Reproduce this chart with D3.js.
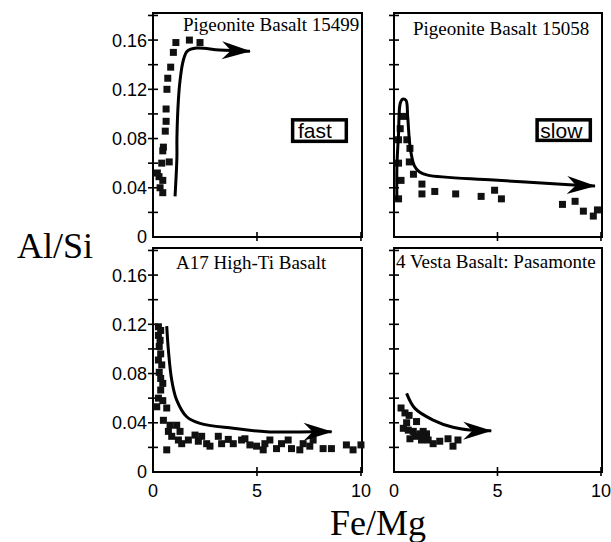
<!DOCTYPE html>
<html lang="en">

<head>
    <meta charset="UTF-8">
    <title>Al/Si vs Fe/Mg</title>
    <script src="https://cdn.jsdelivr.net/npm/d3@7"></script>
    <style>
        body {
            margin: 0;
            padding: 0;
            background: #fff;
        }

        svg text.tick {
            font: 18px "Liberation Sans", Arial, sans-serif;
        }

        svg text.title {
            font: 19px "Liberation Serif", "Times New Roman", serif;
        }
    </style>
</head>

<body>
    <div id="chart"></div>
    <script>
        // tick values / labels
        var xTicks = [0, 5, 10];
        var yMajor = [0, 0.04, 0.08, 0.12, 0.16];
        var yMajorLabels = ["0", "0.04", "0.08", "0.12", "0.16"];
        var yMinor = [0.02, 0.06, 0.10, 0.14, 0.18];

        // Pigeonite Basalt 15499
        var p15499X = [1.1, 1.75, 2.26, 0.98, 0.85, 0.71, 0.67, 0.63, 0.63, 0.59, 0.50, 0.47, 0.42, 0.78, 0.21, 0.29, 0.47, 0.34, 0.47];
        var p15499Y = [0.158, 0.160, 0.158, 0.150, 0.138, 0.129, 0.120, 0.104, 0.094, 0.086, 0.073, 0.070, 0.060, 0.061, 0.052, 0.049, 0.046, 0.040, 0.036];
        var p15499LineX = [1.06, 1.15, 1.15, 1.22, 1.30, 1.45, 1.65, 2.1, 3.2, 4.66];
        var p15499LineY = [0.033, 0.065, 0.080, 0.111, 0.127, 0.143, 0.151, 0.1535, 0.152, 0.151];

        // Pigeonite Basalt 15058
        var p15058X = [0.22, 0.34, 0.22, 0.22, 0.30, 0.46, 0.62, 0.77, 0.74, 0.94, 1.35, 1.35, 1.97, 2.98, 4.21, 4.86, 5.19, 8.14, 8.75, 9.15, 9.63, 9.83];
        var p15058Y = [0.031, 0.046, 0.060, 0.079, 0.088, 0.098, 0.079, 0.072, 0.061, 0.051, 0.043, 0.035, 0.037, 0.035, 0.033, 0.038, 0.031, 0.0265, 0.029, 0.021, 0.017, 0.022];
        var p15058LineX = [0.14, 0.14, 0.22, 0.30, 0.42, 0.58, 0.66, 0.78, 0.98, 1.22, 1.62, 4.82, 8.67, 9.71];
        var p15058LineY = [0.030, 0.057, 0.084, 0.1085, 0.112, 0.111, 0.098, 0.073, 0.058, 0.053, 0.0503, 0.0463, 0.0422, 0.0414];

        // A17 High-Ti Basalt
        var a17X = [0.26, 0.37, 0.26, 0.34, 0.30, 0.37, 0.26, 0.42, 0.30, 0.37, 0.47, 0.37, 0.26, 0.47, 0.18, 0.66, 0.50,
            0.82, 0.66, 0.74, 0.90, 1.14, 1.22, 1.38, 1.30, 1.70, 2.02, 2.18, 2.34, 2.58, 2.74, 3.14, 3.30, 3.62, 3.86,
            4.26, 4.42, 4.66, 4.98, 5.30, 5.38, 5.62, 5.94, 6.18, 6.50, 6.66, 7.06, 7.22, 7.54, 7.70, 8.18, 8.58, 9.30, 9.62, 10.0];
        var a17Y = [0.118, 0.115, 0.111, 0.107, 0.102, 0.096, 0.091, 0.087, 0.081, 0.076, 0.072, 0.0666, 0.060, 0.058, 0.053, 0.052, 0.042,
            0.038, 0.018, 0.033, 0.029, 0.038, 0.026, 0.023, 0.033, 0.026, 0.030, 0.025, 0.029, 0.023, 0.021, 0.029, 0.023, 0.0265, 0.023,
            0.026, 0.027, 0.022, 0.021, 0.018, 0.023, 0.026, 0.019, 0.023, 0.026, 0.019, 0.018, 0.023, 0.021, 0.026, 0.019, 0.019, 0.022, 0.018, 0.022];
        var a17LineX = [0.66, 0.74, 0.90, 1.14, 1.62, 2.26, 3.86, 5.46, 7.7, 8.59];
        var a17LineY = [0.1185, 0.099, 0.0747, 0.0584, 0.0449, 0.0395, 0.0355, 0.0327, 0.0327, 0.0327];

        // 4 Vesta Basalt: Pasamonte
        var vestaX = [0.34, 0.53, 0.73, 1.09, 0.45, 0.69, 0.93, 0.77, 1.01, 1.25, 1.41, 1.57, 1.33, 1.65, 1.89, 2.21, 2.61, 2.85, 3.09, 0.61];
        var vestaY = [0.052, 0.048, 0.046, 0.041, 0.0355, 0.034, 0.033, 0.027, 0.029, 0.031, 0.033, 0.031, 0.026, 0.026, 0.023, 0.025, 0.027, 0.021, 0.026, 0.040];
        var vestaLineX = [0.61, 1.01, 1.89, 2.85, 3.65, 4.70];
        var vestaLineY = [0.0639, 0.0517, 0.0422, 0.0363, 0.0341, 0.0335];

        var width = 611, height = 542;

        var svg = d3.select("#chart").append("svg")
            .attr("width", width)
            .attr("height", height);

        // arrow head with notched back
        svg.append("defs").append("marker")
            .attr("id", "arrow")
            .attr("markerUnits", "userSpaceOnUse")
            .attr("viewBox", "-29 -10 30 20")
            .attr("refX", 0)
            .attr("refY", 0)
            .attr("markerWidth", 30)
            .attr("markerHeight", 20)
            .attr("orient", "auto")
            .append("path")
            .attr("d", "M1,0L-28,-9L-19,0L-28,9Z")
            .attr("fill", "#000");

        var cols = [[153, 362], [394, 602]];
        var rows = [[13, 237], [248, 472]];

        var panels = [
            { title: "Pigeonite Basalt 15499", col: 0, row: 0, px: p15499X, py: p15499Y, lx: p15499LineX, ly: p15499LineY, tdx: 30, tdy: 18, box: { text: "fast", x0: 6.63, x1: 9.38, y0: 0.0763, y1: 0.0966, tdx: 7 } },
            { title: "Pigeonite Basalt 15058", col: 1, row: 0, px: p15058X, py: p15058Y, lx: p15058LineX, ly: p15058LineY, tdx: 19, tdy: 22, box: { text: "slow", x0: 6.83, x1: 9.57, y0: 0.0771, y1: 0.0966, tdx: 5 } },
            { title: "A17 High-Ti Basalt", col: 0, row: 1, px: a17X, py: a17Y, lx: a17LineX, ly: a17LineY, tdx: 23, tdy: 21 },
            { title: "4 Vesta Basalt: Pasamonte", col: 1, row: 1, px: vestaX, py: vestaY, lx: vestaLineX, ly: vestaLineY, tdx: 2, tdy: 20 }
        ];

        panels.forEach(function (p) {
            var left = cols[p.col][0], right = cols[p.col][1];
            var top = rows[p.row][0], bottom = rows[p.row][1];

            var x = d3.scaleLinear().domain([0, 10.05]).range([left, right]);
            var y = d3.scaleLinear().domain([0, 0.182]).range([bottom, top]);

            var g = svg.append("g");

            // frame
            g.append("rect")
                .attr("x", left)
                .attr("y", top)
                .attr("width", right - left)
                .attr("height", bottom - top)
                .attr("fill", "none")
                .attr("stroke", "#000")
                .attr("stroke-width", 2);

            // y ticks crossing the axis
            g.selectAll(".ytick")
                .data(yMajor.slice(1).concat(yMinor))
                .enter().append("line")
                .attr("x1", left - 5)
                .attr("x2", left + 5)
                .attr("y1", function (d) { return y(d); })
                .attr("y2", function (d) { return y(d); })
                .attr("stroke", "#000")
                .attr("stroke-width", 1.6);

            // x ticks
            g.selectAll(".xtick")
                .data(xTicks.slice(1))
                .enter().append("line")
                .attr("x1", function (d) { return x(d); })
                .attr("x2", function (d) { return x(d); })
                .attr("y1", bottom - 5)
                .attr("y2", bottom + 4)
                .attr("stroke", "#000")
                .attr("stroke-width", 1.6);

            if (p.col === 0) {
                g.selectAll(".ylab")
                    .data(yMajor)
                    .enter().append("text")
                    .attr("class", "tick")
                    .attr("x", left - 6)
                    .attr("y", function (d) { return y(d); })
                    .attr("dy", "0.36em")
                    .attr("text-anchor", "end")
                    .text(function (d, i) { return yMajorLabels[i]; });
            }

            if (p.row === 1) {
                g.selectAll(".xlab")
                    .data(xTicks)
                    .enter().append("text")
                    .attr("class", "tick")
                    .attr("x", function (d) { return x(d); })
                    .attr("y", bottom + 25)
                    .attr("text-anchor", "middle")
                    .text(function (d) { return d; });
            }

            g.append("text")
                .attr("class", "title")
                .attr("x", left + p.tdx)
                .attr("y", top + p.tdy)
                .attr("fill", "#000")
                .text(p.title);

            // data squares
            var pts = p.px.map(function (v, i) { return [v, p.py[i]]; });
            g.selectAll(".pt")
                .data(pts)
                .enter().append("rect")
                .attr("x", function (d) { return x(d[0]) - 3.5; })
                .attr("y", function (d) { return y(d[1]) - 3.5; })
                .attr("width", 7)
                .attr("height", 7)
                .attr("fill", "#111");

            // model path with arrow
            var linePts = p.lx.map(function (v, i) { return [v, p.ly[i]]; });
            var line = d3.line()
                .x(function (d) { return x(d[0]); })
                .y(function (d) { return y(d[1]); })
                .curve(d3.curveCatmullRom.alpha(0.5));

            g.append("path")
                .datum(linePts)
                .attr("d", line)
                .attr("fill", "none")
                .attr("stroke", "#000")
                .attr("stroke-width", 3)
                .attr("marker-end", "url(#arrow)");

            if (p.box) {
                var b = p.box;
                g.append("rect")
                    .attr("x", x(b.x0) + 1.75)
                    .attr("y", y(b.y1) + 1.75)
                    .attr("width", x(b.x1) - x(b.x0) - 3.5)
                    .attr("height", y(b.y0) - y(b.y1) - 3.5)
                    .attr("fill", "#fff")
                    .attr("stroke", "#000")
                    .attr("stroke-width", 3.5);
                g.append("text")
                    .attr("x", x(b.x0) + b.tdx)
                    .attr("y", (y(b.y0) + y(b.y1)) / 2)
                    .attr("dy", "0.36em")
                    .style("font", "21px 'Liberation Sans', Arial, sans-serif")
                    .attr("fill", "#000")
                    .text(b.text);
            }
        });

        svg.append("text")
            .attr("x", 93)
            .attr("y", 258)
            .attr("text-anchor", "end")
            .style("font", "36px 'Liberation Serif', 'Times New Roman', serif")
            .attr("fill", "#000")
            .text("Al/Si");

        svg.append("text")
            .attr("x", 378)
            .attr("y", 535)
            .attr("text-anchor", "middle")
            .style("font", "36px 'Liberation Serif', 'Times New Roman', serif")
            .attr("fill", "#000")
            .text("Fe/Mg");
    </script>
</body>

</html>
